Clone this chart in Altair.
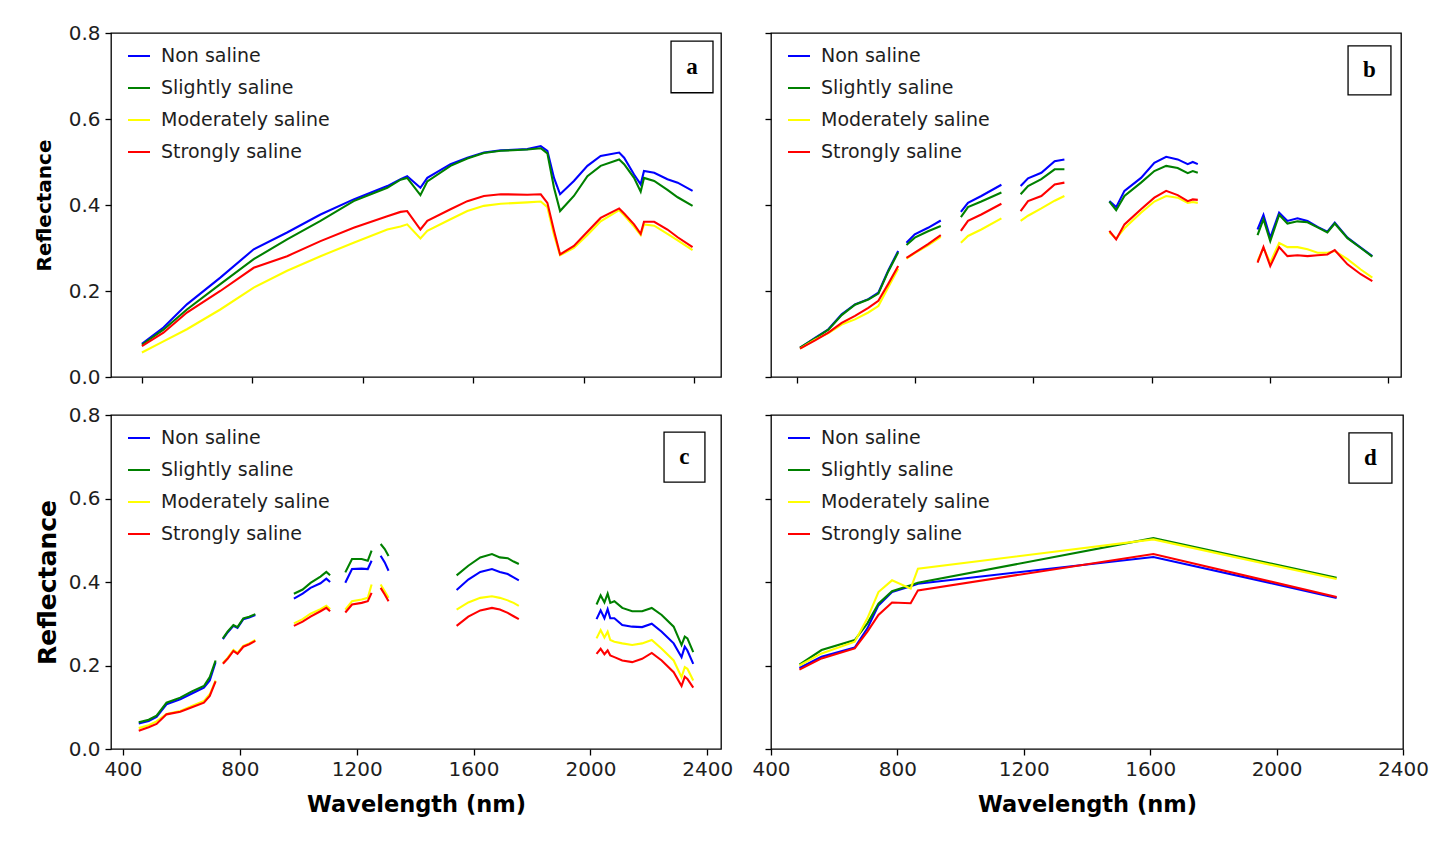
import altair as alt
import pandas as pd

CLASSES = ["Non saline", "Slightly saline", "Moderately saline", "Strongly saline"]
COLORS = ["#0000ff", "#008000", "#ffff00", "#ff0000"]
XTICKS = [400, 800, 1200, 1600, 2000, 2400]
YTICKS = [0.0, 0.2, 0.4, 0.6, 0.8]

# ---------------- panel a : full spectra ----------------
A_WL = [400, 478, 563, 684, 805, 926, 1047, 1167, 1289, 1337, 1361, 1409, 1434, 1518, 1579, 1639, 1700,
        1796, 1845, 1869, 1893, 1915, 1965, 2014, 2062, 2129, 2147, 2183, 2207, 2219, 2256, 2304, 2341, 2395]
A_NON = [0.077, 0.115, 0.169, 0.231, 0.297, 0.336, 0.378, 0.413, 0.444, 0.460, 0.467, 0.440, 0.463, 0.495,
         0.510, 0.522, 0.527, 0.530, 0.537, 0.526, 0.463, 0.425, 0.456, 0.491, 0.514, 0.522, 0.510, 0.471,
         0.448, 0.479, 0.475, 0.460, 0.452, 0.433]
A_SLI = [0.075, 0.110, 0.157, 0.216, 0.274, 0.320, 0.363, 0.409, 0.440, 0.459, 0.463, 0.423, 0.455, 0.491,
         0.508, 0.521, 0.526, 0.529, 0.532, 0.520, 0.440, 0.386, 0.421, 0.467, 0.491, 0.506, 0.495, 0.463,
         0.431, 0.463, 0.456, 0.435, 0.418, 0.398]
A_MOD = [0.057, 0.083, 0.111, 0.157, 0.208, 0.247, 0.281, 0.312, 0.343, 0.350, 0.355, 0.322, 0.340, 0.367,
         0.386, 0.398, 0.403, 0.406, 0.408, 0.395, 0.330, 0.283, 0.300, 0.330, 0.362, 0.388, 0.376, 0.350,
         0.330, 0.355, 0.352, 0.333, 0.318, 0.295]
A_STR = [0.072, 0.103, 0.150, 0.200, 0.254, 0.281, 0.316, 0.347, 0.374, 0.384, 0.386, 0.343, 0.363, 0.390,
         0.409, 0.421, 0.425, 0.424, 0.425, 0.405, 0.340, 0.285, 0.305, 0.338, 0.370, 0.392, 0.380, 0.355,
         0.333, 0.361, 0.361, 0.343, 0.325, 0.302]

# ---------------- panel b : segmented spectra ----------------
B_WL = [[411, 462, 507, 552, 597, 642, 676, 709, 743],
        [771, 799, 844, 887],
        [955, 979, 1024, 1092],
        [1157, 1182, 1227, 1272, 1305],
        [1457, 1480, 1508, 1564, 1609, 1649, 1688, 1722, 1739, 1756],
        [1958, 1978, 2001, 2031, 2059, 2093, 2127, 2161, 2194, 2219, 2262, 2307, 2346]]
B_NON = [[0.068, 0.091, 0.111, 0.146, 0.169, 0.181, 0.196, 0.247, 0.293],
         [0.312, 0.332, 0.347, 0.364],
         [0.384, 0.405, 0.421, 0.447],
         [0.444, 0.462, 0.475, 0.502, 0.506],
         [0.409, 0.395, 0.433, 0.463, 0.498, 0.512, 0.506, 0.495, 0.500, 0.495],
         [0.343, 0.377, 0.324, 0.382, 0.363, 0.369, 0.363, 0.349, 0.338, 0.359, 0.324, 0.301, 0.281]]
B_SLI = [[0.068, 0.090, 0.110, 0.144, 0.168, 0.180, 0.194, 0.245, 0.290],
         [0.307, 0.324, 0.339, 0.351],
         [0.372, 0.395, 0.408, 0.429],
         [0.425, 0.444, 0.460, 0.483, 0.483],
         [0.408, 0.388, 0.421, 0.452, 0.479, 0.491, 0.486, 0.474, 0.479, 0.475],
         [0.330, 0.367, 0.316, 0.377, 0.357, 0.362, 0.360, 0.348, 0.336, 0.357, 0.323, 0.300, 0.280]]
B_MOD = [[0.066, 0.087, 0.102, 0.122, 0.134, 0.150, 0.165, 0.208, 0.252],
         [0.275, 0.288, 0.306, 0.326],
         [0.312, 0.328, 0.343, 0.369],
         [0.363, 0.375, 0.392, 0.410, 0.421],
         [0.336, 0.322, 0.346, 0.382, 0.408, 0.421, 0.417, 0.405, 0.407, 0.405],
         [0.270, 0.300, 0.266, 0.312, 0.302, 0.302, 0.297, 0.289, 0.289, 0.293, 0.274, 0.250, 0.231]]
B_STR = [[0.066, 0.085, 0.103, 0.126, 0.142, 0.161, 0.177, 0.216, 0.258],
         [0.277, 0.289, 0.309, 0.330],
         [0.340, 0.363, 0.378, 0.403],
         [0.386, 0.409, 0.421, 0.448, 0.452],
         [0.340, 0.320, 0.355, 0.390, 0.417, 0.433, 0.423, 0.409, 0.413, 0.412],
         [0.266, 0.302, 0.258, 0.302, 0.281, 0.283, 0.281, 0.283, 0.285, 0.295, 0.262, 0.239, 0.223]]

# ---------------- panel c : segmented spectra ----------------
C_WL = [[454, 488, 515, 549, 596, 636, 677, 697, 717],
        [742, 758, 778, 792, 812, 832, 853],
        [985, 1015, 1042, 1076, 1096, 1109],
        [1161, 1184, 1217, 1238, 1251],
        [1282, 1296, 1309],
        [1542, 1582, 1623, 1663, 1690, 1717, 1737, 1755],
        [2021, 2035, 2048, 2059, 2068, 2082, 2109, 2143, 2177, 2210, 2244, 2285, 2312, 2323, 2332, 2352]]
C_NON = [[0.061, 0.067, 0.077, 0.107, 0.119, 0.133, 0.147, 0.164, 0.208],
         [0.263, 0.279, 0.295, 0.290, 0.311, 0.315, 0.321],
         [0.360, 0.372, 0.386, 0.397, 0.408, 0.400],
         [0.398, 0.431, 0.432, 0.431, 0.451],
         [0.463, 0.447, 0.427],
         [0.381, 0.406, 0.424, 0.431, 0.424, 0.419, 0.411, 0.404],
         [0.311, 0.332, 0.313, 0.335, 0.313, 0.313, 0.297, 0.293, 0.292, 0.300, 0.281, 0.253, 0.220, 0.245, 0.236, 0.204]]
C_SLI = [[0.064, 0.070, 0.080, 0.111, 0.123, 0.138, 0.151, 0.172, 0.212],
         [0.265, 0.281, 0.297, 0.292, 0.313, 0.317, 0.323],
         [0.372, 0.382, 0.398, 0.413, 0.424, 0.416],
         [0.423, 0.455, 0.455, 0.451, 0.475],
         [0.491, 0.479, 0.462],
         [0.416, 0.439, 0.459, 0.467, 0.459, 0.457, 0.449, 0.443],
         [0.346, 0.368, 0.351, 0.372, 0.350, 0.354, 0.338, 0.330, 0.330, 0.338, 0.321, 0.293, 0.249, 0.269, 0.265, 0.232]]
C_MOD = [[0.050, 0.057, 0.066, 0.084, 0.091, 0.103, 0.115, 0.131, 0.164],
         [0.206, 0.218, 0.237, 0.230, 0.247, 0.253, 0.261],
         [0.301, 0.311, 0.324, 0.335, 0.343, 0.335],
         [0.334, 0.354, 0.358, 0.362, 0.394],
         [0.394, 0.378, 0.362],
         [0.334, 0.351, 0.362, 0.366, 0.362, 0.356, 0.350, 0.343],
         [0.265, 0.285, 0.267, 0.281, 0.261, 0.257, 0.253, 0.249, 0.253, 0.261, 0.240, 0.212, 0.172, 0.196, 0.192, 0.164]]
C_STR = [[0.044, 0.052, 0.060, 0.083, 0.089, 0.100, 0.111, 0.127, 0.162],
         [0.204, 0.216, 0.235, 0.228, 0.245, 0.251, 0.259],
         [0.295, 0.305, 0.317, 0.330, 0.338, 0.330],
         [0.327, 0.346, 0.350, 0.354, 0.374],
         [0.386, 0.370, 0.354],
         [0.295, 0.317, 0.332, 0.338, 0.334, 0.326, 0.318, 0.311],
         [0.228, 0.240, 0.227, 0.236, 0.224, 0.220, 0.212, 0.208, 0.216, 0.230, 0.212, 0.184, 0.151, 0.173, 0.168, 0.147]]

# ---------------- panel d : multispectral bands ----------------
D_WL = [490, 560, 665, 705, 740, 783, 842, 865, 1610, 2190]
D_NON = [0.194, 0.221, 0.243, 0.289, 0.344, 0.376, 0.390, 0.396, 0.460, 0.362]
D_SLI = [0.202, 0.237, 0.261, 0.301, 0.348, 0.378, 0.392, 0.398, 0.505, 0.410]
D_MOD = [0.200, 0.229, 0.257, 0.313, 0.376, 0.404, 0.384, 0.432, 0.502, 0.407]
D_STR = [0.190, 0.217, 0.241, 0.281, 0.321, 0.351, 0.349, 0.380, 0.467, 0.364]


def to_frame(wl_segs, series):
    rows = []
    for cls, segs in zip(CLASSES, series):
        for si, (wls, vals) in enumerate(zip(wl_segs, segs)):
            for w, v in zip(wls, vals):
                rows.append({"wl": w, "refl": v, "cls": cls, "seg": si})
    return pd.DataFrame(rows)


DF_A = to_frame([A_WL], [[A_NON], [A_SLI], [A_MOD], [A_STR]])
DF_B = to_frame(B_WL, [B_NON, B_SLI, B_MOD, B_STR])
DF_C = to_frame(C_WL, [C_NON, C_SLI, C_MOD, C_STR])
DF_D = to_frame([D_WL], [[D_NON], [D_SLI], [D_MOD], [D_STR]])

FONT = "DejaVu Sans"
TXT = "#1e1e1e"


def make_panel(df, xdom, w, h, xlabels, ylabels, ysize, ytx, letter, box):
    xkw = dict(values=XTICKS, grid=False, domain=False, tickSize=6, tickWidth=1.3, tickColor="black",
               labels=xlabels, labelFontSize=20, labelFont=FONT, labelColor=TXT, labelPadding=4,
               labelFlush=False, labelOverlap=False, format="d")
    if xlabels:
        xkw.update(title="Wavelength (nm)", titleFontSize=22.5, titleFont=FONT, titleFontWeight="bold",
                   titleColor="black", titleY=55, titleBaseline="middle")
    else:
        xkw.update(title=None)
    ykw = dict(values=YTICKS, grid=False, domain=False, tickSize=6, tickWidth=1.3, tickColor="black",
               labels=ylabels, labelFontSize=20, labelFont=FONT, labelColor=TXT, labelPadding=5,
               format=".1f")
    if ylabels:
        ykw.update(title="Reflectance", titleFontSize=ysize, titleFont=FONT, titleFontWeight="bold",
                   titleColor="black", titleX=ytx, titleY=h / 2, titleBaseline="middle", titleAngle=270)
    else:
        ykw.update(title=None)

    xs = alt.Scale(domain=xdom, nice=False, zero=False)
    ys = alt.Scale(domain=[0, 0.8], nice=False, zero=False)
    xax = alt.Axis(**xkw)
    yax = alt.Axis(**ykw)

    lines = alt.Chart(df).mark_line(strokeWidth=2.1, clip=True).encode(
        x=alt.X("wl:Q", scale=xs, axis=xax),
        y=alt.Y("refl:Q", scale=ys, axis=yax),
        color=alt.Color("cls:N", scale=alt.Scale(domain=CLASSES, range=COLORS),
                        legend=alt.Legend(title=None, orient="none", legendX=16, legendY=11,
                                          symbolType="stroke", symbolSize=484, symbolStrokeWidth=2,
                                          labelFontSize=19, labelFont=FONT, labelColor=TXT,
                                          labelOffset=10, rowPadding=10, padding=0, labelLimit=400)),
        detail="seg:N",
    )
    bdf = pd.DataFrame({"x": [box[0]], "x2": [box[1]], "y": [box[2]], "y2": [box[3]],
                        "xm": [(box[0] + box[1]) / 2], "ym": [(box[2] + box[3]) / 2], "t": [letter]})
    rect = alt.Chart(bdf).mark_rect(fill="white", stroke="black", strokeWidth=1.3).encode(
        x=alt.X("x:Q", scale=xs, axis=xax), x2="x2:Q",
        y=alt.Y("y:Q", scale=ys, axis=yax), y2="y2:Q")
    text = alt.Chart(bdf).mark_text(font="Liberation Serif", fontWeight="bold", fontSize=23,
                                    color="black", baseline="middle").encode(
        x=alt.X("xm:Q", scale=xs, axis=xax), y=alt.Y("ym:Q", scale=ys, axis=yax), text="t:N")
    return alt.layer(lines, rect, text).properties(width=w, height=h)


pa = make_panel(DF_A, [288, 2498], 610, 344, False, True, 20, -67, "a", (2317, 2469, 0.661, 0.781))
pb = make_panel(DF_B, [313, 2443], 630, 344, False, False, 20, -67, "b", (2264, 2409, 0.656, 0.770))
pc = make_panel(DF_C, [359, 2447], 610, 334, True, True, 25, -64, "c", (2252, 2392, 0.639, 0.759))
pd_ = make_panel(DF_D, [400, 2400], 632, 334, True, False, 25, -64, "d", (2229, 2365, 0.637, 0.757))

chart = alt.concat(pa, pb, pc, pd_, columns=2, spacing=alt.RowColnumber(row=38, column=50),
                   bounds="flush").resolve_legend(color="independent").properties(
    padding={"left": 25, "top": 14, "right": 5, "bottom": 5}
).configure_view(stroke="black", strokeWidth=1.3)

chart.save("out.html", embed_options={"renderer": "svg", "actions": False})
